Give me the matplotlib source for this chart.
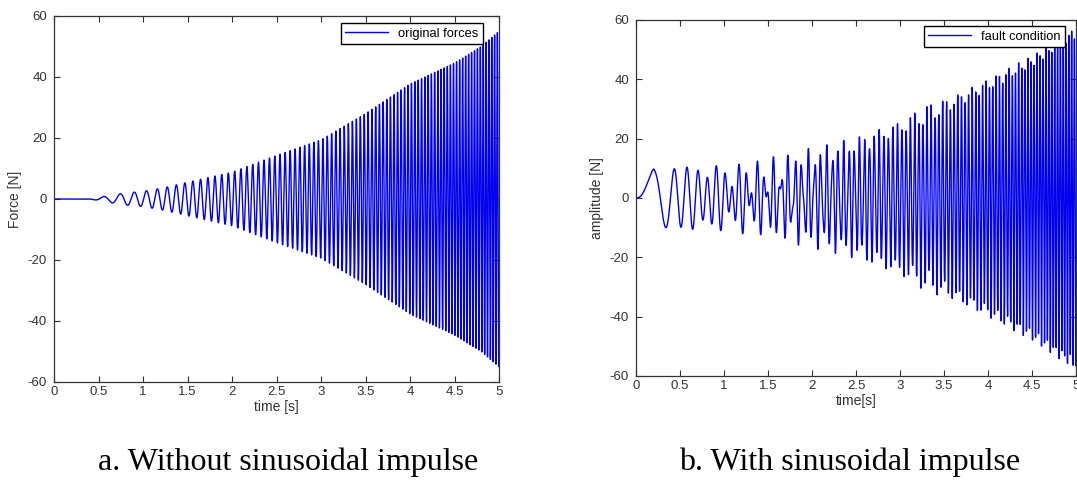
import numpy as np
import matplotlib
matplotlib.use('Agg')
import matplotlib.pyplot as plt

plt.rcParams['axes.unicode_minus'] = False

# envelope of the original force
env_t = [0.0, 0.4, 0.5, 0.6, 0.8, 1.0, 1.25, 1.5, 2.0, 2.5, 3.0, 3.5, 4.0, 4.5, 4.8, 5.0]
env_a = [0.0, 0.0, 0.5, 1.0, 2.0, 2.5, 3.8, 5.5, 8.8, 14.3, 19.4, 28.0, 37.7, 44.6, 50.0, 55.0]

# frequency of the force chirp [Hz]
frq_t = [0.4, 0.7, 1.0, 1.5, 2.0, 2.5, 3.0, 3.5, 4.0, 4.5, 5.0]
frq_f = [4.5, 5.5, 7.5, 11.0, 14.0, 17.0, 20.0, 23.0, 26.0, 29.0, 32.0]

# panel b: chirp part under the fault ...
env2_t = [0.0, 0.4, 0.6, 0.8, 1.0, 1.5, 2.0, 2.5, 3.0, 3.5, 4.0, 4.5, 5.0]
env2_a = [0.0, 0.0, 1.0, 2.0, 3.5, 7.5, 12.5, 17.4, 23.6, 30.5, 38.0, 46.0, 56.0]

# ... and the sinusoidal impulse added to it
imp_t = [0.0, 0.05, 0.2, 0.5, 1.0, 1.5, 2.0, 2.5, 3.0, 3.3, 3.6, 5.0]
imp_a = [0.0, 1.5, 10.0, 10.0, 8.0, 6.0, 4.5, 3.0, 2.0, 4.0, 2.0, 2.0]
imp_ft = [0.0, 0.15, 0.3, 0.5, 1.0, 1.5, 2.0, 2.5, 3.0, 4.0, 5.0]
imp_f = [1.0, 1.5, 3.8, 7.0, 11.0, 17.0, 23.0, 29.0, 35.0, 45.0, 52.0]

t = np.linspace(0, 5, 25001)
dt = t[1] - t[0]

phase1 = 2 * np.pi * np.cumsum(np.interp(t, frq_t, frq_f)) * dt
phase1 -= phase1[np.searchsorted(t, 0.4)]
force = np.interp(t, env_t, env_a) * np.sin(phase1 - np.pi)

phase2 = 2 * np.pi * np.cumsum(np.interp(t, imp_ft, imp_f)) * dt
fault = (np.interp(t, env2_t, env2_a) * np.sin(phase1 - np.pi)
         + np.interp(t, imp_t, imp_a) * np.sin(phase2))

W, H = 1077, 487
fig = plt.figure(figsize=(W / 100, H / 100), dpi=100)

labfont = dict(family='Liberation Sans', size=10, color='#333333')


def style(ax):
    ax.set_xlim(0, 5)
    ax.set_ylim(-60, 60)
    ax.set_xticks(np.arange(0, 5.01, 0.5))
    ax.set_xticklabels(['0', '0.5', '1', '1.5', '2', '2.5', '3', '3.5', '4', '4.5', '5'])
    ax.set_yticks(np.arange(-60, 61, 20))
    ax.tick_params(direction='in', top=True, right=True, length=4, width=0.8,
                   colors='#333333', labelsize=9.5)
    ax.tick_params(axis='y', pad=5)
    ax.tick_params(axis='x', pad=3)
    for lab in ax.get_xticklabels() + ax.get_yticklabels():
        lab.set_family('Liberation Sans')
    for s in ax.spines.values():
        s.set_color('#333333')
        s.set_linewidth(0.9)


ax1 = fig.add_axes([54 / W, 1 - 382 / H, 445 / W, 366 / H])
ax1.plot(t, force, color='#0000ee', lw=1.0, label='original forces')
style(ax1)
ax1.set_xlabel('time [s]', fontdict=labfont, labelpad=1)
ax1.set_ylabel('Force [N]', fontdict=labfont, labelpad=4)
ax1.legend(loc='upper right', bbox_to_anchor=(483 / W, 1 - 23 / H),
           bbox_transform=fig.transFigure, fancybox=False, edgecolor='black',
           framealpha=1, prop=dict(family='Liberation Sans', size=9.3),
           handlelength=3.3, borderpad=0.35, borderaxespad=0)

ax2 = fig.add_axes([636 / W, 1 - 376 / H, 440 / W, 356 / H])
ax2.plot(t, fault, color='#0000ee', lw=1.0, label='fault condition')
style(ax2)
ax2.set_xlabel('time[s]', fontdict=labfont, labelpad=1)
ax2.set_ylabel('amplitude [N]', fontdict=labfont, labelpad=4)
ax2.legend(loc='upper right', bbox_to_anchor=(1065 / W, 1 - 26 / H),
           bbox_transform=fig.transFigure, fancybox=False, edgecolor='black',
           framealpha=1, prop=dict(family='Liberation Sans', size=9.3),
           handlelength=3.3, borderpad=0.35, borderaxespad=0)

fig.text(288 / W, 1 - 462 / H, 'a. Without sinusoidal impulse',
         family='Liberation Serif', size=23, ha='center', va='center')
fig.text(850 / W, 1 - 462 / H, 'b. With sinusoidal impulse',
         family='Liberation Serif', size=23, ha='center', va='center')

fig.savefig('out.png', dpi=100)
